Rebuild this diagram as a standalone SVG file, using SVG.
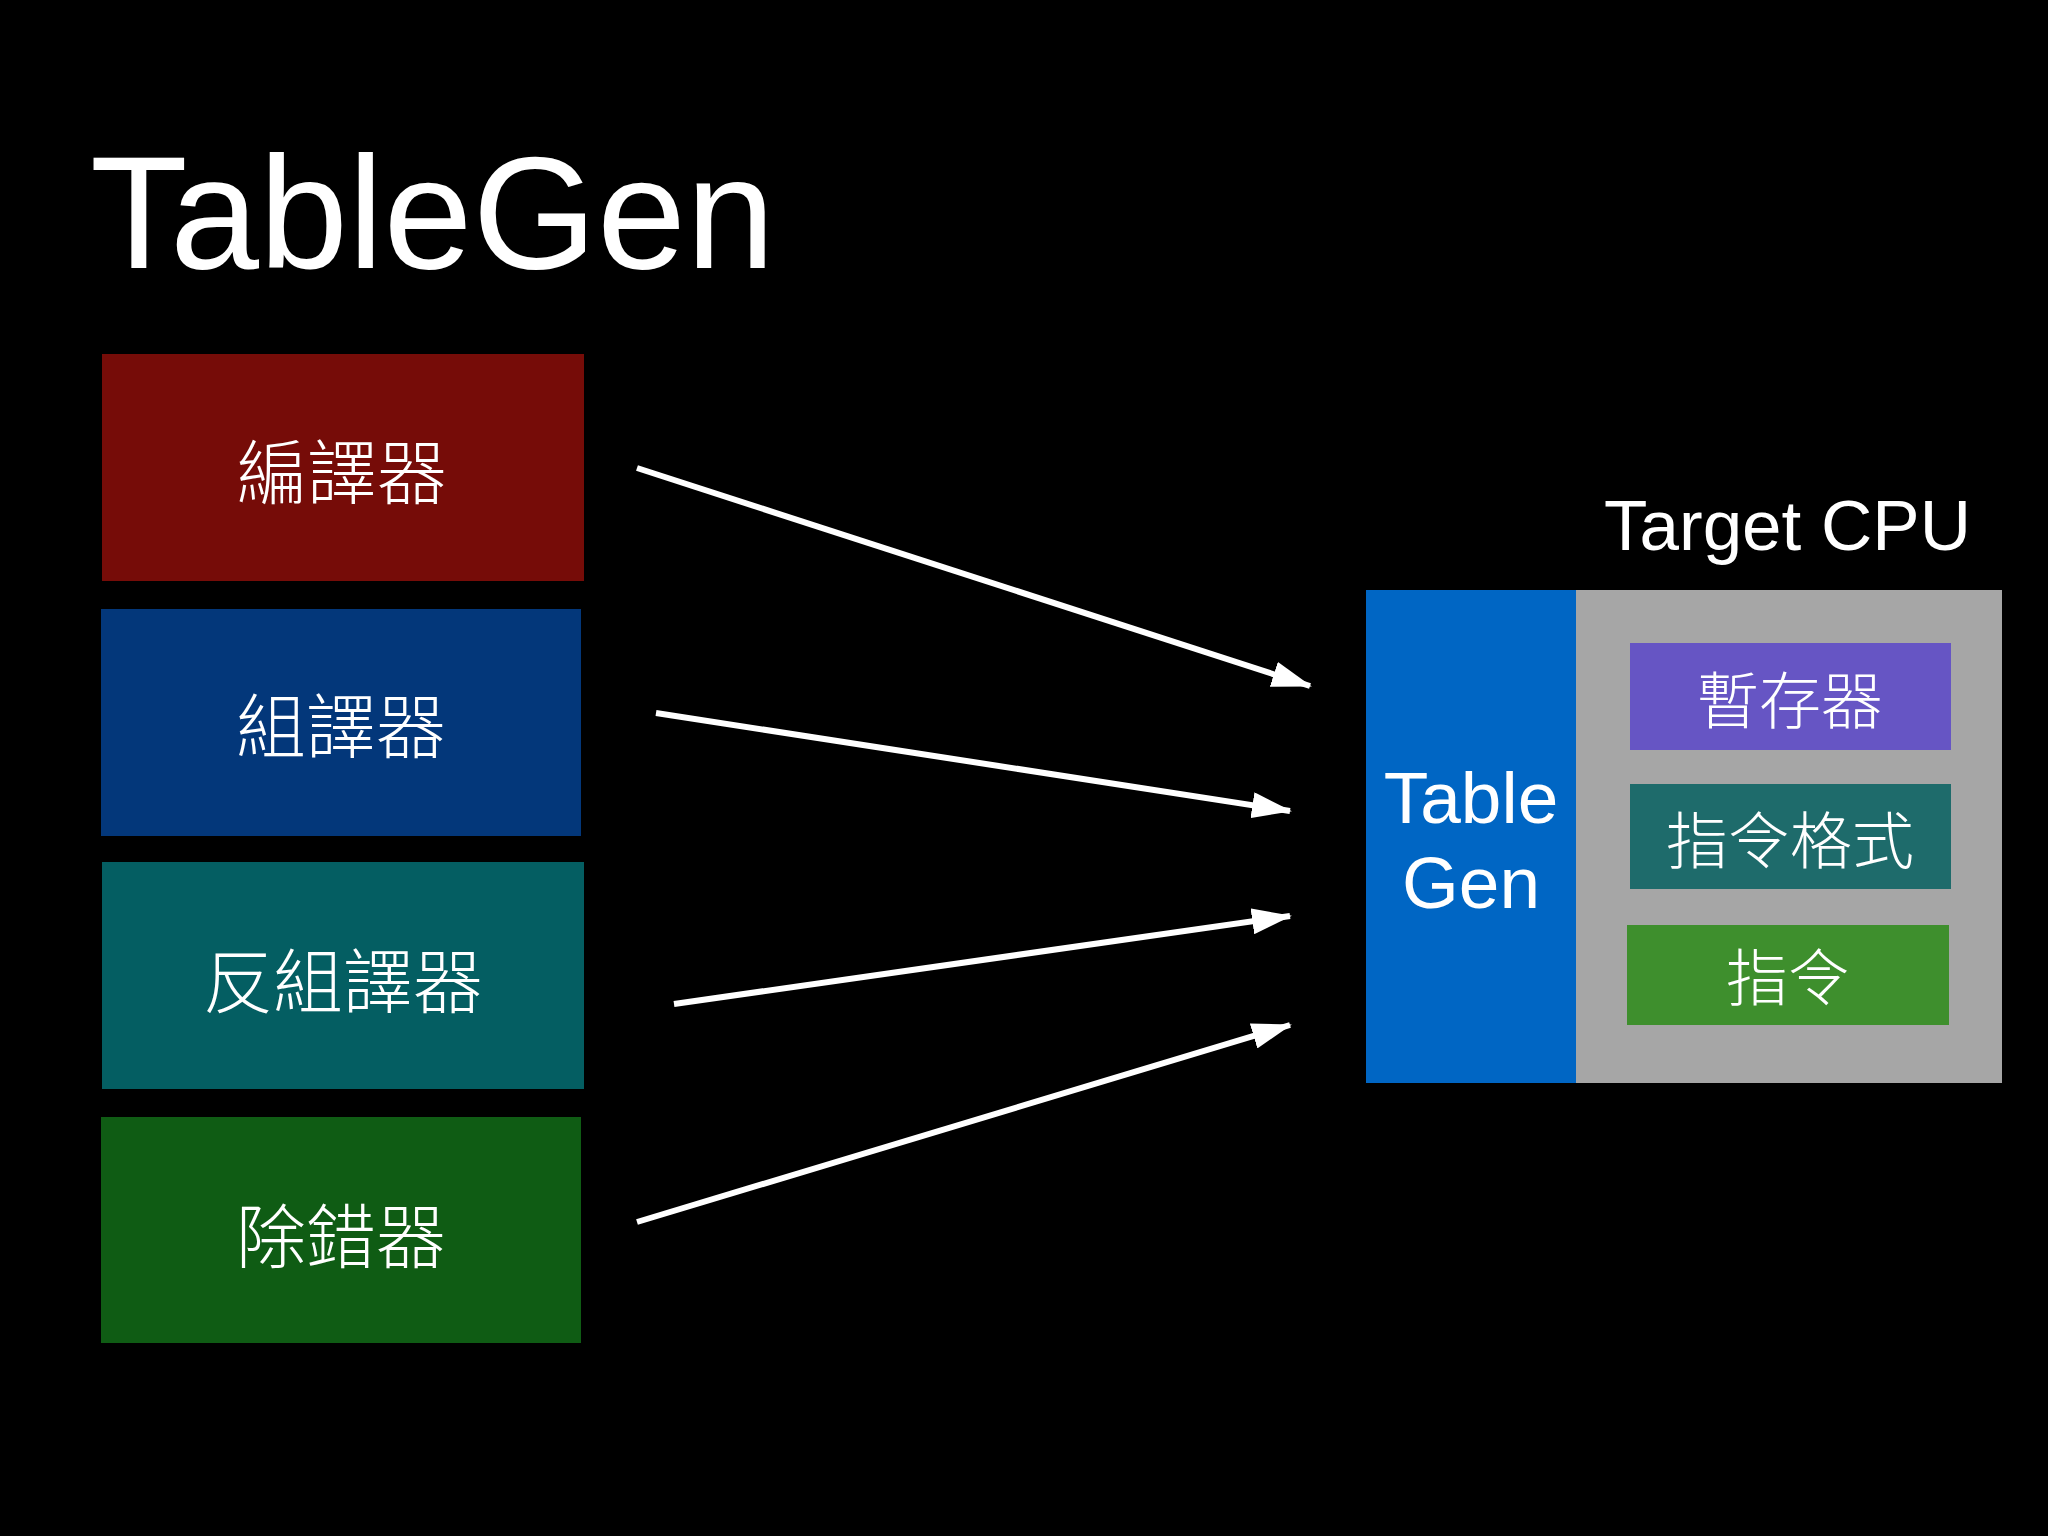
<svg xmlns="http://www.w3.org/2000/svg" width="2048" height="1536" viewBox="0 0 2048 1536">
<style>
.t{font-family:"Liberation Sans","Noto Sans CJK TC",sans-serif;fill:#fff}
.c{font-family:"Noto Sans CJK TC",sans-serif;fill:#fff;text-anchor:middle;dominant-baseline:central;font-weight:300}
.a{stroke:#fff;stroke-width:6;fill:none}
</style>
<defs><marker id="ah" markerWidth="40" markerHeight="26" refX="38" refY="13" orient="auto" markerUnits="userSpaceOnUse" viewBox="0 0 40 26"><path d="M0,0L40,13L0,26z" fill="#fff"/></marker></defs>
<rect width="2048" height="1536" fill="#000"/>
<text class="t" x="90" y="268" font-size="160">TableGen</text>
<g id="n1"><rect x="102" y="354" width="482" height="227" fill="#760c08"/><text class="c" x="342" y="468" font-size="70">編譯器</text></g>
<g id="n2"><rect x="101" y="609" width="480" height="227" fill="#03377a"/><text class="c" x="341" y="722" font-size="70">組譯器</text></g>
<g id="n3"><rect x="102" y="862" width="482" height="227" fill="#045e62"/><text class="c" x="343" y="977" font-size="70">反組譯器</text></g>
<g id="n4"><rect x="101" y="1117" width="480" height="226" fill="#0f5c14"/><text class="c" x="341" y="1232" font-size="70">除錯器</text></g>
<g id="cpu">
<text class="t" x="1604" y="550" font-size="71">Target CPU</text>
<rect x="1576" y="590" width="426" height="493" fill="#a6a6a6"/>
<rect x="1366" y="590" width="210" height="493" fill="#0066c4"/>
<text class="t" x="1471" y="823" font-size="73" text-anchor="middle">Table</text>
<text class="t" x="1471" y="908" font-size="73" text-anchor="middle">Gen</text>
</g>
<g id="r1"><rect x="1630" y="643" width="321" height="107" fill="#6655c4"/><text class="c" x="1790" y="697" font-size="62">暫存器</text></g>
<g id="r2"><rect x="1630" y="784" width="321" height="105" fill="#1e6b6b"/><text class="c" x="1790" y="837" font-size="62">指令格式</text></g>
<g id="r3"><rect x="1627" y="925" width="322" height="100" fill="#3e8f2d"/><text class="c" x="1788" y="974" font-size="62">指令</text></g>
<g id="connectors">
<path class="a" d="M637,468L1310,686" marker-end="url(#ah)"/>
<path class="a" d="M656,713L1290,811" marker-end="url(#ah)"/>
<path class="a" d="M674,1004L1290,916" marker-end="url(#ah)"/>
<path class="a" d="M637,1222L1290,1025" marker-end="url(#ah)"/>
</g>
</svg>
